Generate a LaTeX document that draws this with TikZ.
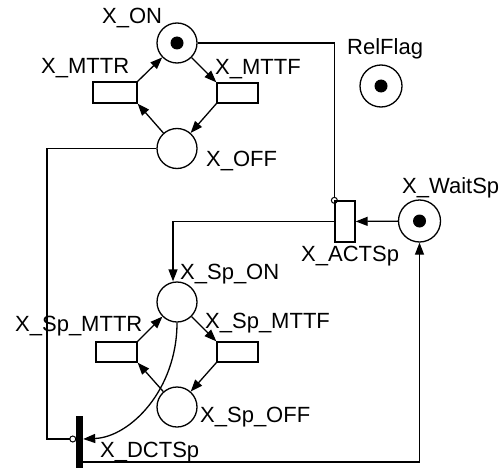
\documentclass[tikz,border=0pt]{standalone}
\usepackage{fontspec}
\setmainfont{Liberation Sans}
\usetikzlibrary{arrows.meta}
\begin{document}
\begin{tikzpicture}[x=1pt,y=-1pt,
  place/.style={circle,draw,line width=1.3pt,minimum size=40pt,inner sep=0pt},
  trans/.style={rectangle,draw,line width=1.3pt,minimum width=41pt,minimum height=20pt,inner sep=0pt},
  lbl/.style={anchor=base west,inner sep=0pt,font=\fontsize{22}{26}\selectfont},
  arc/.style={line width=1.3pt,-{Triangle[length=12pt,width=9pt]}},
  inh/.style={line width=1.3pt,-{Circle[open,length=7pt,width=7pt,line width=1pt]}},
  tok/.style={circle,fill=black,minimum size=13pt,inner sep=0pt}]
\useasboundingbox (0,0) rectangle (502,468);
% places
\node[place] (xon) at (177,43) {};
\node[tok] (xontok) at (xon) {};
\node[place] (xoff) at (177,148.5) {};
\node[place,minimum size=42pt] (rel) at (381,86) {};
\node[tok] (reltok) at (rel) {};
\node[place,minimum size=42pt] (wait) at (419.5,221) {};
\node[tok] (waittok) at (wait) {};
\node[place] (spon) at (177,302) {};
\node[place] (spoff) at (177,407) {};
% transitions
\node[trans,minimum width=44pt,minimum height=21pt] (mttr) at (115,92.5) {};
\node[trans] (mttf) at (237.5,93) {};
\node[trans,minimum width=20pt,minimum height=41pt] (act) at (345,221.5) {};
\node[trans] (spmttr) at (116.5,352) {};
\node[trans] (spmttf) at (237.5,352) {};
\node[fill=black,minimum width=7pt,minimum height=52pt,inner sep=0pt] (dct) at (79.5,442) {};
% labels
\node[lbl] (lxon) at (102,24) {X\_ON};
\node[lbl] (lmttr) at (41,74) {X\_MTTR};
\node[lbl] (lmttf) at (215,75) {X\_MTTF};
\node[lbl] (lxoff) at (206,166) {X\_OFF};
\node[lbl] (lrel) at (347,55) {RelFlag};
\node[lbl] (lwait) at (402,193) {X\_WaitSp};
\node[lbl] (lact) at (301,261) {X\_ACTSp};
\node[lbl] (lspon) at (180,279) {X\_Sp\_ON};
\node[lbl] (lspmttr) at (15,331) {X\_Sp\_MTTR};
\node[lbl] (lspmttf) at (205,328) {X\_Sp\_MTTF};
\node[lbl] (lspoff) at (200,422) {X\_Sp\_OFF};
\node[lbl] (ldct) at (100,457) {X\_DCTSp};
% arcs upper loop
\draw[arc] (xon) -- (mttf.north west);
\draw[arc] (mttf.south west) -- (xoff);
\draw[arc] (xoff) -- (mttr.south east);
\draw[arc] (mttr.north east) -- (xon);
% arcs lower loop
\draw[arc] (spon) -- (spmttf.north west);
\draw[arc] (spmttf.south west) -- (spoff);
\draw[arc] (spoff) -- (spmttr.south east);
\draw[arc] (spmttr.north east) -- (spon);
% other arcs
\draw[inh] (xon.east) -| ([yshift=-3.5pt]act.north west);
\draw[arc] (wait) -- (act);
\draw[arc] (act.west) -| ([xshift=-4pt]spon.north);
\coordinate (lft) at (47,439);
\draw[inh] (xoff.west) -| (lft) -- ([yshift=3pt,xshift=0.5pt]dct.west);
\draw[arc] (spon.south) .. controls (177,390) and (130,437) .. ([yshift=3pt]dct.east);
\draw[arc] ([yshift=-20pt]dct.east) -| (wait.south);
\end{tikzpicture}
\end{document}
